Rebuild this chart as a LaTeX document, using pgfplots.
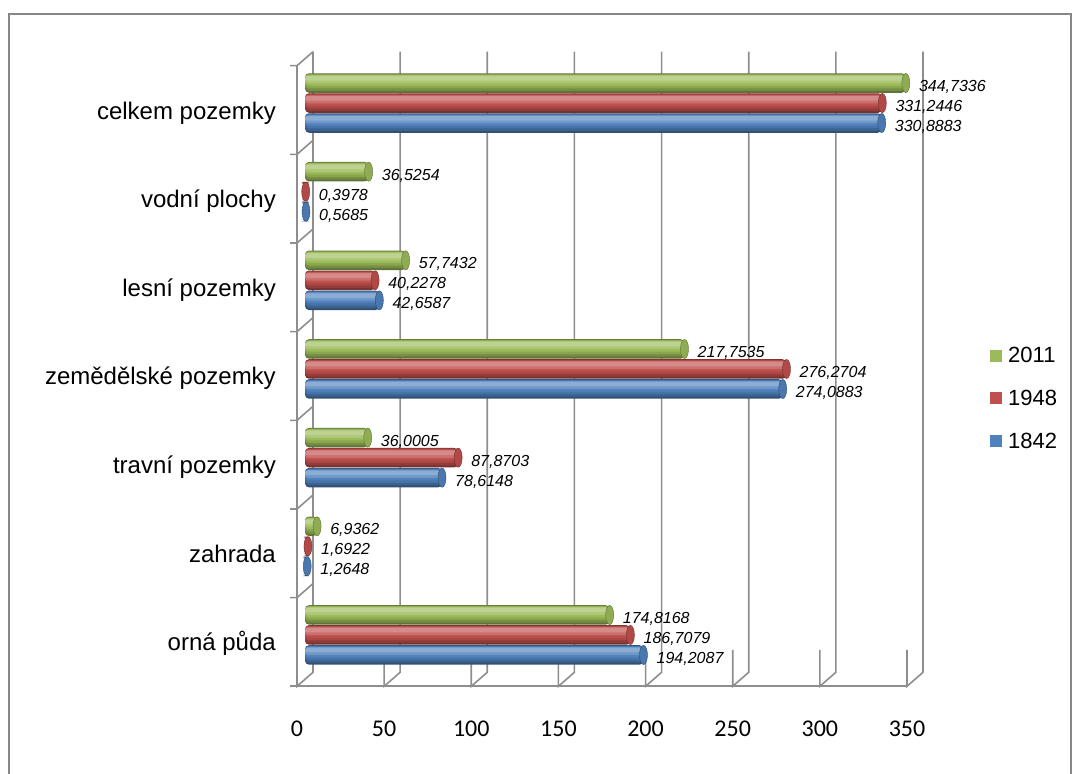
\documentclass[border=0pt]{standalone}
\usepackage{pgfplots}
\usepackage{pgfplotstable}
\pgfplotsset{compat=1.18}
\usepackage{fontspec}
\setmainfont{Liberation Sans}
\newfontfamily\carlito{Carlito}
\definecolor{cg}{HTML}{9BBB59}
\definecolor{cr}{HTML}{C0504D}
\definecolor{cb}{HTML}{4F81BD}
\definecolor{gridc}{HTML}{8E8E8E}
\definecolor{framec}{HTML}{878787}
\pgfdeclareplotmark{cap}{\pgfpathellipse{\pgfpointorigin}{\pgfqpoint{4bp}{0pt}}{\pgfqpoint{0pt}{9.6bp}}\pgfusepathqfillstroke}
\pgfplotstableread{
pos b r g
0 194.2087 186.7079 174.8168
1 1.2648 1.6922 6.9362
2 78.6148 87.8703 36.0005
3 274.0883 276.2704 217.7535
4 42.6587 40.2278 57.7432
5 0.5685 0.3978 36.5254
6 330.8883 331.2446 344.7336
}\data
% one bp in y units: 620.6bp for 7 units
\def\bpu{0.011279}
% layer: column, colour, offset (bp), width (bp), radius
\newcommand{\layer}[5]{%
 \addplot[xbar, forget plot, bar width=#4bp, bar shift=0pt, draw=none, fill=#2, rounded corners=#5bp] table[x=#1, y expr={\thisrow{pos}+(#3)*\bpu}] {\data};
}
\newcommand{\series}[4]{%
 \layer{#1}{#2!62!black}{#3}{19.5}{4}
 \layer{#1}{#2!76!black}{#3+0.75}{17}{4}
 \layer{#1}{#2!89!black}{#3+1.75}{14}{4}
 \layer{#1}{#2}{#3+2.75}{11}{4}
 \layer{#1}{#2!82!white}{#3+3.75}{8}{3}
 \layer{#1}{#2!66!white}{#3+4.75}{4.5}{2}
 \addplot[only marks, mark=cap, mark options={fill=#2!92!black, draw=#2!60!black, line width=0.4bp}, nodes near coords,
   legend image code/.code={\fill[#2, draw=none, sharp corners] (0bp,-6bp) rectangle (12bp,6bp); \path[draw=none, fill=none] (16bp,0bp);}]
   table[x=#1, y expr={\thisrow{pos}+(#3)*\bpu}] {\data};
 \addlegendentry{#4}
}
\begin{document}
\begin{tikzpicture}
\path[use as bounding box] (0,0) rectangle (1079bp,774bp);
\draw[framec, line width=2bp] (9.3bp,-10bp) rectangle (1071bp,759.7bp);
\begin{axis}[
  at={(305bp,94.7bp)}, anchor=south west,
  scale only axis, width=610bp, height=620.6bp,
  xmin=0, xmax=350, ymin=-0.5, ymax=6.5,
  clip=false,
  xtick={0,50,100,150,200,250,300,350},
  ytick={0,1,2,3,4,5,6},
  yticklabels={orná půda, zahrada, travní pozemky, zemědělské pozemky, lesní pozemky, vodní plochy, celkem pozemky},
  axis line style={draw=none},
  tick style={draw=none},
  point meta=x,
  /pgf/number format/assume math mode=true,
  xticklabel style={font=\carlito\fontsize{24bp}{28bp}\selectfont, anchor=center, xshift=-8bp, yshift=-49bp},
  yticklabel style={font=\fontsize{24bp}{28bp}\selectfont, anchor=base east, inner sep=0pt, xshift=-29bp, yshift=-16bp},
  nodes near coords style={font=\itshape\fontsize{16bp}{19bp}\selectfont, text=black, anchor=west, inner sep=0pt, xshift=13bp, yshift=-4bp,
    /pgf/number format/.cd, fixed, fixed zerofill, precision=4, use comma, assume math mode=true},
  reverse legend,
  legend cell align=left,
  legend style={at={(1.123,0.4525)}, anchor=west, draw=none, fill=none,
    font=\fontsize{22bp}{26bp}\selectfont, row sep=22bp, inner sep=0pt,
    nodes={inner sep=2bp}},
]
% 3D frame decorations
\pgfplotsinvokeforeach{0,50,100,150,200,250,300,350}{
  \draw[gridc, line width=1.6bp] ([xshift=8bp,yshift=7bp]axis cs:#1,6.5) -- ([xshift=8bp,yshift=7bp]axis cs:#1,-0.5) -- ([xshift=-8bp,yshift=-7bp]axis cs:#1,-0.5) -- ++(0,-8bp);
}
\draw[gridc, line width=1.6bp] ([xshift=-15bp,yshift=-7bp]axis cs:0,-0.5) -- ([xshift=-8bp,yshift=-7bp]axis cs:350,-0.5);
\draw[gridc, line width=1.6bp] ([xshift=-8bp,yshift=-7bp]axis cs:0,-0.5) -- ([xshift=-8bp,yshift=-7bp]axis cs:0,6.5);
\pgfplotsinvokeforeach{0.5,1.5,2.5,3.5,4.5,5.5,6.5}{
  \draw[gridc, line width=1.6bp] ([xshift=-15bp,yshift=-7bp]axis cs:0,#1) -- ([xshift=-8bp,yshift=-7bp]axis cs:0,#1) -- ([xshift=8bp,yshift=7bp]axis cs:0,#1);
}
\series{b}{cb}{-20}{1842}
\series{r}{cr}{0}{1948}
\series{g}{cg}{20}{2011}
\end{axis}
\end{tikzpicture}
\end{document}
